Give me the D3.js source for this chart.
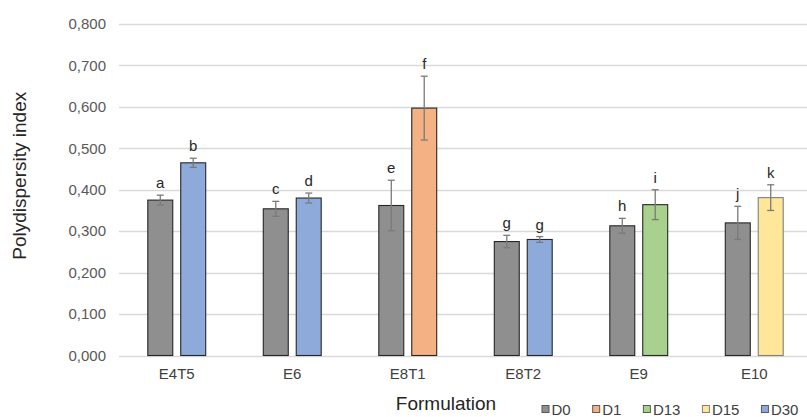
<!DOCTYPE html>
<html>
<head>
<meta charset="utf-8">
<script src="https://cdn.jsdelivr.net/npm/d3@7"></script>
<style>
  body { margin: 0; background: #fff; }
  svg { display: block; font-family: "Liberation Sans", Arial, sans-serif; }
</style>
</head>
<body>
<div id="chart"></div>
<script>
// data
const formulations = ['E4T5', 'E6', 'E8T1', 'E8T2', 'E9', 'E10'];
const d0Values = [0.375, 0.354, 0.362, 0.275, 0.313, 0.320];
const d0Errors = [0.012, 0.018, 0.061, 0.015, 0.018, 0.040];
const d0Letters = ['a', 'c', 'e', 'g', 'h', 'j'];
const laterSeries = ['D30', 'D30', 'D1', 'D30', 'D13', 'D15'];
const laterValues = [0.465, 0.380, 0.597, 0.280, 0.364, 0.381];
const laterErrors = [0.011, 0.012, 0.077, 0.007, 0.036, 0.031];
const laterLetters = ['b', 'd', 'f', 'g', 'i', 'k'];
const legendKeys = ['D0', 'D1', 'D13', 'D15', 'D30'];
const yTicks = [0, 0.1, 0.2, 0.3, 0.4, 0.5, 0.6, 0.7, 0.8];

const colors = { D0: '#8f8f8f', D1: '#f4b183', D13: '#a9d18e', D15: '#ffe699', D30: '#8eaadb' };
const strokes = { D0: '#262626', D1: '#262626', D13: '#262626', D15: '#7f7f7f', D30: '#262626' };

const width = 807, height = 417;
const margin = { top: 24, right: -5, bottom: 61.5, left: 119 };

const svg = d3.select('#chart').append('svg')
  .attr('width', width)
  .attr('height', height);

const y = d3.scaleLinear().domain([0, 0.8]).range([height - margin.bottom, margin.top]);
const x0 = d3.scaleBand()
  .domain(formulations)
  .range([margin.left, width - margin.right])
  .paddingInner(0.49)
  .paddingOuter(0.245);
const x1 = d3.scaleBand()
  .domain(['first', 'second'])
  .range([0, x0.bandwidth()])
  .paddingInner(7 / 33);

const fmt = v => d3.format('.3f')(v).replace('.', ',');

// gridlines
svg.append('g')
  .selectAll('line')
  .data(yTicks)
  .join('line')
  .attr('x1', margin.left)
  .attr('x2', width)
  .attr('y1', d => Math.round(y(d)) + 0.5)
  .attr('y2', d => Math.round(y(d)) + 0.5)
  .attr('stroke', '#d9d9d9')
  .attr('stroke-width', 1.3);

// y tick labels
svg.append('g')
  .selectAll('text')
  .data(yTicks)
  .join('text')
  .attr('x', 106)
  .attr('y', d => y(d))
  .attr('dy', '0.35em')
  .attr('text-anchor', 'end')
  .attr('fill', '#595959')
  .style('font-size', '15px')
  .text(fmt);

// x labels
svg.append('g')
  .selectAll('text')
  .data(formulations)
  .join('text')
  .attr('x', d => x0(d) + x0.bandwidth() / 2)
  .attr('y', 378.5)
  .attr('text-anchor', 'middle')
  .attr('fill', '#404040')
  .style('font-size', '15px')
  .text(d => d);

// bars
const bars = [];
formulations.forEach((f, i) => {
  bars.push({ f, slot: 'first', key: 'D0', v: d0Values[i], e: d0Errors[i], letter: d0Letters[i] });
  bars.push({ f, slot: 'second', key: laterSeries[i], v: laterValues[i], e: laterErrors[i], letter: laterLetters[i] });
});

const bx = d => x0(d.f) + x1(d.slot);
const bw = x1.bandwidth();

svg.append('g')
  .selectAll('rect')
  .data(bars)
  .join('rect')
  .attr('x', d => bx(d) + 0.5)
  .attr('y', d => y(d.v))
  .attr('width', bw - 1)
  .attr('height', d => y(0) - y(d.v))
  .attr('fill', d => colors[d.key])
  .attr('stroke', d => strokes[d.key])
  .attr('stroke-width', 1.1);

// error bars
const err = svg.append('g')
  .attr('stroke', '#7a7a7a')
  .attr('stroke-width', 1.3);
bars.forEach(d => {
  const cx = bx(d) + bw / 2;
  err.append('line')
    .attr('x1', cx).attr('x2', cx)
    .attr('y1', y(d.v + d.e)).attr('y2', y(d.v - d.e));
  [d.v + d.e, d.v - d.e].forEach(v => {
    err.append('line')
      .attr('x1', cx - 3.5).attr('x2', cx + 3.5)
      .attr('y1', y(v)).attr('y2', y(v));
  });
});

// significance letters
svg.append('g')
  .selectAll('text')
  .data(bars)
  .join('text')
  .attr('x', d => bx(d) + bw / 2)
  .attr('y', d => y(d.v + d.e) - 7)
  .attr('text-anchor', 'middle')
  .attr('fill', '#262626')
  .style('font-size', '15px')
  .text(d => d.letter);

// axis titles
svg.append('text')
  .attr('transform', `translate(26,${(margin.top + height - margin.bottom) / 2 - 14}) rotate(-90)`)
  .attr('text-anchor', 'middle')
  .attr('fill', '#262626')
  .style('font-size', '19px')
  .text('Polydispersity index');

svg.append('text')
  .attr('x', 446)
  .attr('y', 410)
  .attr('text-anchor', 'middle')
  .attr('fill', '#262626')
  .style('font-size', '19px')
  .text('Formulation');

// legend
const legend = svg.append('g');
let lx = 541.5;
legendKeys.forEach(k => {
  legend.append('rect')
    .attr('x', lx + 0.5)
    .attr('y', 405.5)
    .attr('width', 7)
    .attr('height', 7)
    .attr('fill', colors[k])
    .attr('stroke', strokes[k] === '#262626' ? '#595959' : strokes[k])
    .attr('stroke-width', 1);
  const t = legend.append('text')
    .attr('x', lx + 10)
    .attr('y', 414.5)
    .attr('fill', '#404040')
    .style('font-size', '15px')
    .text(k);
  lx += 10 + t.node().getComputedTextLength() + 21.5;
});
</script>
</body>
</html>
